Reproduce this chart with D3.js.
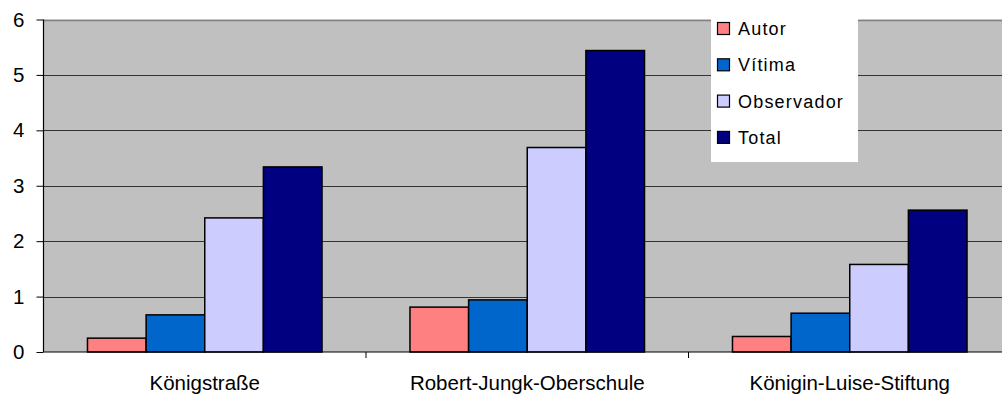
<!DOCTYPE html>
<html>
<head>
<meta charset="utf-8">
<script src="https://cdn.jsdelivr.net/npm/d3@7"></script>
<style>
    body { margin: 0; background: #fff; }
    svg { display: block; font-family: "Liberation Sans", Arial, sans-serif; }
    .tick-label { font-size: 20.5px; fill: #000; }
    .legend-label { font-size: 18px; letter-spacing: 1.2px; fill: #000; }
</style>
</head>
<body>
<div class="canvas"></div>
<script>
const schools = ['Königstraße', 'Robert-Jungk-Oberschule', 'Königin-Luise-Stiftung'];
const roles = ['Autor', 'Vítima', 'Observador', 'Total'];
const autor = [0.25, 0.81, 0.28];
const vitima = [0.67, 0.94, 0.70];
const observador = [2.42, 3.69, 1.58];
const total = [3.34, 5.44, 2.56];
const yTicks = [0, 1, 2, 3, 4, 5, 6];

const colors = ['#FF8080', '#0066CC', '#CCCCFF', '#000080'];
const series = [autor, vitima, observador, total];

const width = 1002, height = 396;
const plotL = 43.5, plotT = 19.5, plotB = 352, catW = 322.5;

const svg = d3.select('.canvas')
    .append('svg')
    .attr('width', width)
    .attr('height', height)
    ;

const xScale = d3.scaleBand()
    .domain(schools)
    .range([plotL, plotL + catW * 3])
    ;

const xInner = d3.scaleBand()
    .domain(roles)
    .range([0, catW])
    .paddingInner(0)
    .paddingOuter(0.75)
    ;

const yScale = d3.scaleLinear()
    .domain([0, 6])
    .range([plotB, plotT])
    ;

//Plot background
svg.append('rect')
    .attr('x', plotL)
    .attr('y', plotT)
    .attr('width', catW * 3)
    .attr('height', plotB - plotT)
    .attr('fill', '#C0C0C0')
    ;

//Gridlines
svg.append('g')
    .selectAll('line')
    .data(yTicks.filter(d => d > 0))
    .enter()
    .append('line')
    .attr('x1', plotL)
    .attr('x2', width)
    .attr('y1', d => Math.round(yScale(d)) + 0.5)
    .attr('y2', d => Math.round(yScale(d)) + 0.5)
    .attr('stroke', d => d === 6 ? '#808080' : '#333')
    .attr('stroke-width', d => d === 6 ? 1.5 : 1)
    ;

//Bars
const groups = svg.append('g')
    .selectAll('g')
    .data(schools)
    .enter()
    .append('g')
    .attr('transform', d => `translate(${xScale(d)}, 0)`)
    ;

groups.selectAll('rect')
    .data((d, i) => roles.map((r, j) => ({ role: r, value: series[j][i], color: colors[j] })))
    .enter()
    .append('rect')
    .attr('x', d => xInner(d.role))
    .attr('y', d => yScale(d.value))
    .attr('width', xInner.bandwidth())
    .attr('height', d => plotB - yScale(d.value))
    .attr('fill', d => d.color)
    .attr('stroke', '#000')
    .attr('stroke-width', 1.5)
    ;

//Y axis
const yAxis = d3.axisLeft(yScale).tickValues(yTicks).tickFormat(d3.format('d')).tickSize(7).tickPadding(12);
svg.append('g')
    .attr('transform', `translate(${plotL}, 0)`)
    .call(yAxis)
    .call(g => g.select('.domain').attr('stroke', '#000').attr('stroke-width', 1.2).attr('d', `M0,${plotT}V${plotB}`))
    .call(g => g.selectAll('.tick line').attr('stroke', '#000'))
    .call(g => g.selectAll('.tick text').attr('class', 'tick-label').attr('font-family', null).attr('font-size', null))
    ;

//X axis
svg.append('line')
    .attr('x1', plotL)
    .attr('x2', width)
    .attr('y1', plotB)
    .attr('y2', plotB)
    .attr('stroke', '#000')
    .attr('stroke-width', 1.2)
    ;

svg.append('g')
    .selectAll('line')
    .data(schools.slice(1))
    .enter()
    .append('line')
    .attr('x1', d => xScale(d))
    .attr('x2', d => xScale(d))
    .attr('y1', plotB)
    .attr('y2', plotB + 6)
    .attr('stroke', '#000')
    ;

svg.append('g')
    .selectAll('text')
    .data(schools)
    .enter()
    .append('text')
    .attr('class', 'tick-label')
    .attr('x', d => xScale(d) + catW / 2)
    .attr('y', 390)
    .attr('text-anchor', 'middle')
    .text(d => d)
    ;

//Legend
svg.append('g')
    .attr('id', 'legend')
    .call(g => {
        g.append('rect')
            .attr('x', 711)
            .attr('y', 17)
            .attr('width', 147)
            .attr('height', 145)
            .attr('fill', '#fff');
        roles.forEach((r, i) => {
            const cy = 28.5 + i * 36.3;
            g.append('rect')
                .attr('x', 717.5)
                .attr('y', cy - 6)
                .attr('width', 12)
                .attr('height', 12)
                .attr('fill', colors[i])
                .attr('stroke', '#000')
                .attr('stroke-width', 1.2);
            g.append('text')
                .attr('class', 'legend-label')
                .attr('x', 738)
                .attr('y', cy + 6.5)
                .text(r);
        });
    })
    ;
</script>
</body>
</html>
